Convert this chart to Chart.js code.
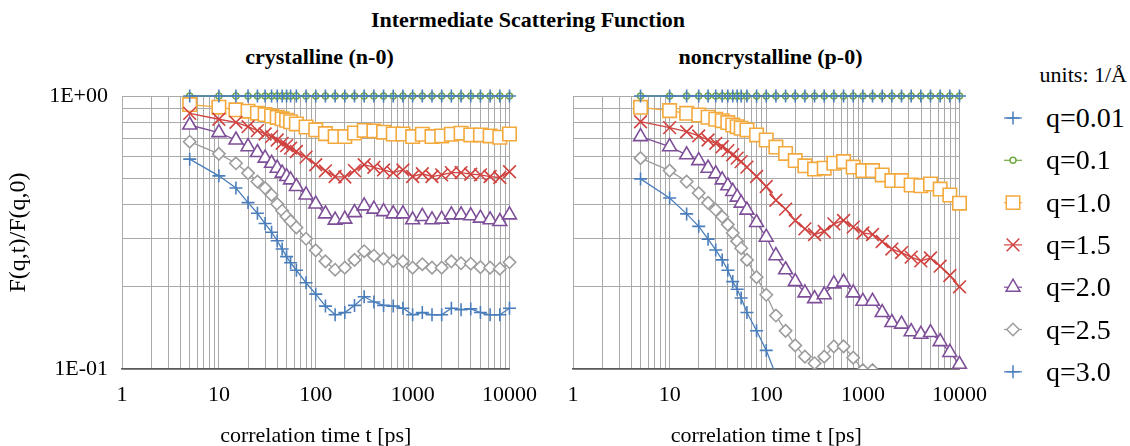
<!DOCTYPE html>
<html>
<head>
<meta charset="utf-8">
<title>Intermediate Scattering Function</title>
<script src="https://cdn.jsdelivr.net/npm/chart.js@4.4.0/dist/chart.umd.min.js"></script>
<style>
  body { margin: 0; background: #fff; }
  #page { position: relative; width: 1130px; height: 446px; overflow: hidden;
          font-family: "Liberation Serif", "DejaVu Serif"; color: #000; }
  .txt { position: absolute; white-space: nowrap; }
  .head { font-weight: bold; font-size: 22px; line-height: 26px; text-align: center; }
  .box { position: absolute; top: 0; height: 446px; }
  .legtxt { position: absolute; left: 1046px; font-size: 28px; line-height: 32px; white-space: nowrap; }
</style>
</head>
<body>
<div id="page">
  <div class="txt head" style="left:228px;width:600px;top:7px">Intermediate Scattering Function</div>
  <div class="txt head" style="left:122px;width:395px;top:44px">crystalline (n-0)</div>
  <div class="txt head" style="left:573px;width:395px;top:44px">noncrystalline (p-0)</div>

  <div class="box" style="left:0;width:550px"><canvas id="crystChart"></canvas></div>
  <div class="box" style="left:545px;width:455px"><canvas id="noncrystChart"></canvas></div>

  <div class="txt" style="right:3px;top:62px;font-size:22px;line-height:26px">units: 1/Å</div>
  <canvas id="legendMarks" width="60" height="300" style="position:absolute;left:983px;top:95px"></canvas>
  <div id="legendText"></div>
</div>

<script>
// correlation times [ps]
const times = [5, 10, 15, 20, 25, 30, 35, 40, 45, 50, 55, 63.1, 79.4, 100, 125.9, 158.5, 199.5,
  251.2, 316.2, 398.1, 501.2, 631, 794.3, 1000, 1258.9, 1584.9, 1995.3, 2511.9, 3162.3,
  3981.1, 5011.9, 6309.6, 7943.3, 10000];

// crystalline (n-0)
const crystQ001 = [1, 1, 1, 1, 1, 1, 1, 1, 1, 1, 1, 1, 1, 1, 1, 1, 1, 1, 1, 1, 1, 1, 1, 1, 1, 1, 1, 1, 1, 1, 1, 1, 1, 1];
const crystQ01 = [1, 1, 1, 1, 1, 1, 1, 1, 1, 1, 1, 1, 1, 1, 1, 1, 1, 1, 1, 1, 1, 1, 1, 1, 1, 1, 1, 1, 1, 1, 1, 1, 1, 1];
const crystQ10 = [0.93, 0.91, 0.89, 0.88, 0.865, 0.855, 0.845, 0.835, 0.825, 0.815, 0.805, 0.79, 0.77, 0.752,
  0.728, 0.71, 0.71, 0.732, 0.748, 0.745, 0.737, 0.726, 0.726, 0.71, 0.724, 0.71, 0.714, 0.724, 0.731,
  0.72, 0.72, 0.714, 0.706, 0.726];
const crystQ15 = [0.864, 0.822, 0.801, 0.772, 0.747, 0.726, 0.71, 0.69, 0.671, 0.658, 0.644, 0.626, 0.597,
  0.56, 0.532, 0.507, 0.505, 0.533, 0.56, 0.548, 0.536, 0.524, 0.536, 0.507, 0.519, 0.507, 0.514,
  0.524, 0.524, 0.517, 0.514, 0.507, 0.503, 0.528];
const crystQ20 = [0.783, 0.734, 0.69, 0.652, 0.621, 0.592, 0.567, 0.544, 0.522, 0.507, 0.493, 0.466, 0.434,
  0.402, 0.37, 0.351, 0.354, 0.374, 0.396, 0.385, 0.377, 0.37, 0.37, 0.352, 0.362, 0.352, 0.354,
  0.367, 0.367, 0.364, 0.357, 0.352, 0.347, 0.367];
const crystQ25 = [0.68, 0.614, 0.567, 0.522, 0.486, 0.46, 0.434, 0.402, 0.38, 0.362, 0.348, 0.33, 0.3,
  0.272, 0.248, 0.231, 0.235, 0.251, 0.27, 0.26, 0.253, 0.249, 0.248, 0.235, 0.242, 0.235, 0.235,
  0.248, 0.244, 0.243, 0.236, 0.235, 0.233, 0.246];
const crystQ30 = [0.587, 0.51, 0.46, 0.407, 0.372, 0.341, 0.317, 0.295, 0.275, 0.258, 0.245, 0.23, 0.207,
  0.188, 0.17, 0.158, 0.161, 0.171, 0.184, 0.176, 0.171, 0.17, 0.167, 0.158, 0.161, 0.158, 0.158,
  0.167, 0.165, 0.166, 0.161, 0.158, 0.158, 0.167];

// noncrystalline (p-0)
const noncrystQ001 = [1, 1, 1, 1, 1, 1, 1, 1, 1, 1, 1, 1, 1, 1, 1, 1, 1, 1, 1, 1, 1, 1, 1, 1, 1, 1, 1, 1, 1, 1, 1, 1, 1, 1];
const noncrystQ01 = [1, 1, 1, 1, 1, 1, 1, 1, 1, 1, 1, 1, 1, 1, 1, 1, 1, 1, 1, 1, 1, 1, 1, 1, 1, 1, 1, 1, 1, 1, 1, 1, 1, 1];
const noncrystQ10 = [0.909, 0.884, 0.864, 0.852, 0.836, 0.822, 0.812, 0.799, 0.783, 0.772, 0.762, 0.751, 0.72,
  0.69, 0.65, 0.616, 0.58, 0.555, 0.54, 0.544, 0.567, 0.575, 0.549, 0.533, 0.533, 0.514, 0.49,
  0.49, 0.472, 0.469, 0.476, 0.456, 0.434, 0.405];
const noncrystQ15 = [0.805, 0.766, 0.74, 0.714, 0.69, 0.671, 0.652, 0.631, 0.609, 0.592, 0.575, 0.549, 0.507,
  0.466, 0.415, 0.385, 0.35, 0.326, 0.311, 0.319, 0.34, 0.35, 0.331, 0.315, 0.311, 0.293, 0.275,
  0.267, 0.257, 0.249, 0.255, 0.238, 0.22, 0.2];
const noncrystQ20 = [0.71, 0.652, 0.609, 0.58, 0.544, 0.519, 0.493, 0.469, 0.447, 0.426, 0.405, 0.382, 0.344,
  0.304, 0.26, 0.231, 0.209, 0.19, 0.181, 0.187, 0.205, 0.208, 0.19, 0.177, 0.177, 0.161, 0.148,
  0.146, 0.137, 0.134, 0.136, 0.126, 0.115, 0.104];
const noncrystQ25 = [0.592, 0.533, 0.486, 0.441, 0.406, 0.383, 0.361, 0.338, 0.315, 0.294, 0.277, 0.251, 0.217,
  0.187, 0.157, 0.138, 0.122, 0.111, 0.105, 0.111, 0.121, 0.121, 0.11, 0.099, 0.099];
const noncrystQ30 = [0.497, 0.423, 0.37, 0.333, 0.299, 0.273, 0.251, 0.23, 0.209, 0.196, 0.182, 0.161, 0.138,
  0.117, 0.095];

// series look
const qLabels = ['q=0.01', 'q=0.1', 'q=1.0', 'q=1.5', 'q=2.0', 'q=2.5', 'q=3.0'];
const qColors = ['#4a7ebb', '#72a944', '#f3a93c', '#d0423f', '#7e4f98', '#9c9c9c', '#4a7ebb'];
const qStyles = ['cross', 'circle', 'rect', 'crossRot', 'triangle', 'rectRot', 'cross'];
const qRadius = [6.5, 3, 9.5, 9, 8, 6.2, 6.5];
const qOrder = [-10, -1, -2, -3, -4, -5, -6];

// axis ticks
const xTickValues = [1, 2, 3, 4, 5, 6, 7, 8, 9, 10, 20, 30, 40, 50, 60, 70, 80, 90,
  100, 200, 300, 400, 500, 600, 700, 800, 900, 1000, 2000, 3000, 4000, 5000, 6000, 7000, 8000, 9000, 10000];
const xTickLabels = [1, 10, 100, 1000, 10000];
const yTickValues = [0.1, 0.2, 0.3, 0.4, 0.5, 0.6, 0.7, 0.8, 0.9, 1];

const serif = "'Liberation Serif', 'DejaVu Serif'";
const gridColor = '#a9a9a9';

function makeSets(series) {
  return series.map(function (vals, i) {
    return {
      label: qLabels[i],
      data: vals.map(function (v, k) { return {x: times[k], y: v}; }),
      showLine: true,
      borderColor: qColors[i],
      borderWidth: 1.3,
      pointStyle: qStyles[i],
      pointRadius: qRadius[i],
      pointHoverRadius: qRadius[i],
      pointBorderWidth: 1.6,
      pointBorderColor: qColors[i],
      pointBackgroundColor: '#fff',
      tension: 0,
      order: qOrder[i],
      clip: {left: false, top: false, right: false, bottom: 0}
    };
  });
}

function panelOptions(withYLabels, yWidth, padRight) {
  return {
    responsive: true,
    maintainAspectRatio: false,
    animation: false,
    events: [],
    layout: {padding: {top: 96, right: padRight, left: 0, bottom: 0}},
    plugins: {legend: {display: false}, tooltip: {enabled: false}, title: {display: false}},
    scales: {
      x: {
        type: 'logarithmic',
        min: 1,
        max: 10000,
        afterBuildTicks: function (s) { s.ticks = xTickValues.map(function (v) { return {value: v}; }); },
        afterFit: function (s) { s.height = 77; },
        ticks: {
          autoSkip: false, maxRotation: 0, padding: 13, color: '#000',
          font: {family: serif, size: 22},
          callback: function (v) { return xTickLabels.indexOf(v) >= 0 ? String(v) : ''; }
        },
        grid: {color: gridColor, lineWidth: 1, drawTicks: false},
        border: {display: true, color: '#5a5a5a', width: 1.5},
        title: {
          display: true, text: 'correlation time t [ps]', color: '#000',
          font: {family: serif, size: 22}, padding: {top: 0, bottom: -3}
        }
      },
      y: {
        type: 'logarithmic',
        min: 0.1,
        max: 1,
        afterBuildTicks: function (s) { s.ticks = yTickValues.map(function (v) { return {value: v}; }); },
        afterFit: function (s) { s.width = yWidth; },
        ticks: {
          display: withYLabels, autoSkip: false, padding: 14, color: '#000',
          font: {family: serif, size: 22},
          callback: function (v) {
            if (v === 1) return '1E+00';
            if (v === 0.1) return '1E-01';
            return '';
          }
        },
        grid: {color: gridColor, lineWidth: 1, drawTicks: false},
        border: {display: false},
        title: {
          display: withYLabels, text: 'F(q,t)/F(q,0)', color: '#000',
          font: {family: serif, size: 24}, padding: {top: 4, bottom: 0}
        }
      }
    }
  };
}

new Chart('crystChart', {
  type: 'scatter',
  data: {datasets: makeSets([crystQ001, crystQ01, crystQ10, crystQ15, crystQ20, crystQ25, crystQ30])},
  options: panelOptions(true, 122, 33)
});

new Chart('noncrystChart', {
  type: 'scatter',
  data: {datasets: makeSets([noncrystQ001, noncrystQ01, noncrystQ10, noncrystQ15, noncrystQ20, noncrystQ25, noncrystQ30])},
  options: panelOptions(false, 28, 32)
});

// legend: marker with a short line, then the label
const legCtx = document.getElementById('legendMarks').getContext('2d');
const legText = document.getElementById('legendText');
qLabels.forEach(function (lbl, i) {
  const cy = 118 + 42.3 * i;
  const y = cy - 95;
  legCtx.strokeStyle = qColors[i];
  legCtx.lineWidth = 1.2;
  legCtx.beginPath();
  legCtx.moveTo(21, y);
  legCtx.lineTo(39, y);
  legCtx.stroke();
  legCtx.fillStyle = '#fff';
  legCtx.lineWidth = 1.5;
  Chart.helpers.drawPoint(legCtx, {pointStyle: qStyles[i], radius: qRadius[i], borderWidth: 1.5, rotation: 0}, 30, y);

  const d = document.createElement('div');
  d.className = 'legtxt';
  d.style.top = (cy - 16) + 'px';
  d.textContent = lbl;
  legText.appendChild(d);
});
</script>
</body>
</html>
